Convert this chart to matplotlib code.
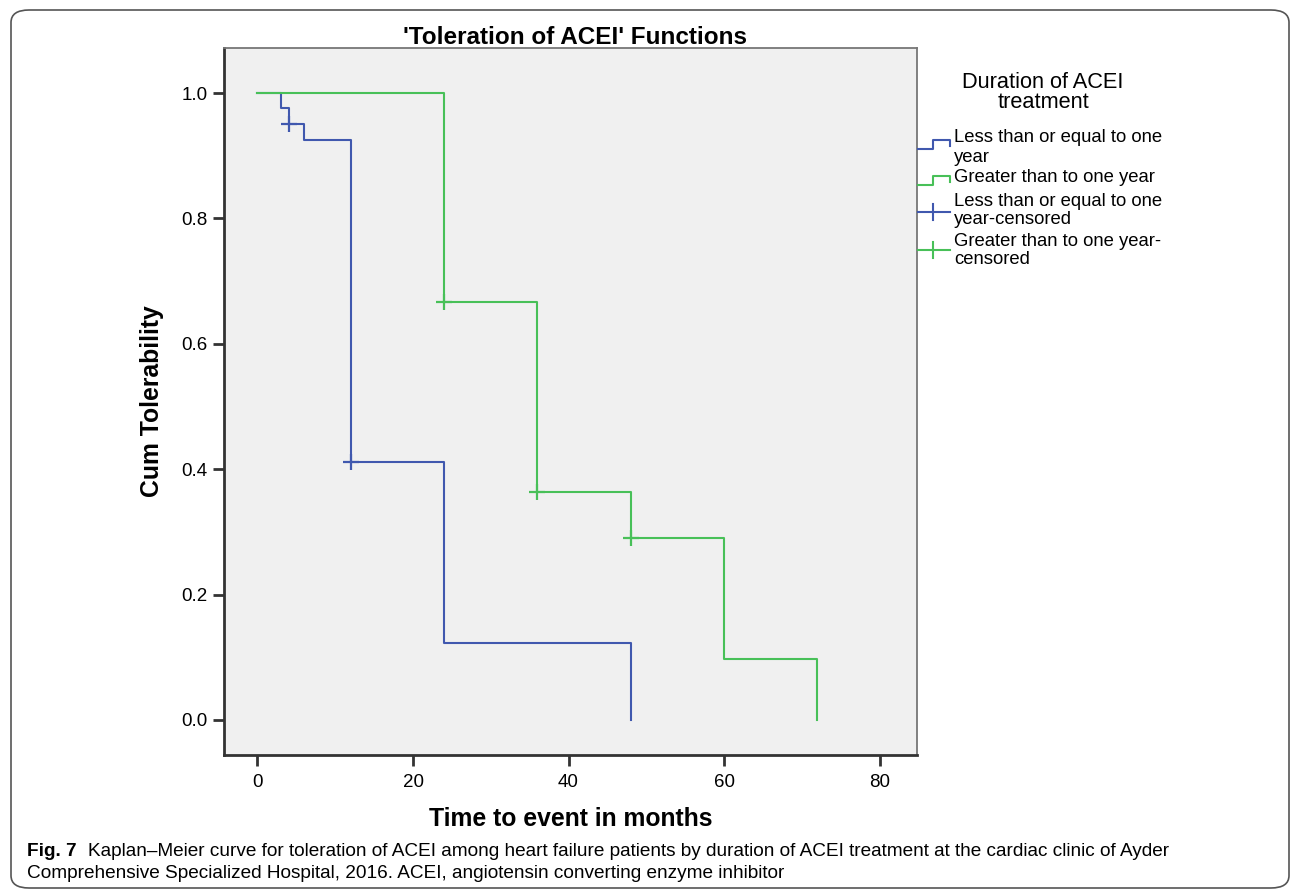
import matplotlib
matplotlib.use("Agg")
import matplotlib.pyplot as plt
from matplotlib.lines import Line2D
from matplotlib.patches import FancyBboxPatch

# Kaplan-Meier estimates
short_t = [0, 3, 4, 6, 12, 24, 48]
short_s = [1.0, 0.976, 0.951, 0.925, 0.411, 0.123, 0.0]
short_cens_t = [4, 12]
short_cens_s = [0.951, 0.411]

long_t = [0, 24, 36, 48, 60, 72]
long_s = [1.0, 0.667, 0.364, 0.291, 0.097, 0.0]
long_cens_t = [24, 36, 48]
long_cens_s = [0.667, 0.364, 0.291]

legend_labels = ["Less than or equal to one\nyear",
                 "Greater than to one year",
                 "Less than or equal to one\nyear-censored",
                 "Greater than to one year-\ncensored"]

BLUE = "#4058ae"
GREEN = "#48c058"
W, H = 1295, 891

plt.rcParams['font.family'] = ['Liberation Sans', 'DejaVu Sans']


def px(x, y):
    return x / W, 1 - y / H


def fy(y):
    return 1 - y / H


fig = plt.figure(figsize=(W / 100, H / 100), dpi=100)
ax = fig.add_axes([224 / W, 1 - 755 / H, (917 - 224) / W, (755 - 48) / H])
ax.set_facecolor("#f0f0f0")

ax.step(short_t, short_s, where='post', color=BLUE, lw=1.5)
ax.step(long_t, long_s, where='post', color=GREEN, lw=1.5)
ax.plot(short_cens_t, short_cens_s, '+', color=BLUE, ms=11, mew=1.6)
ax.plot(long_cens_t, long_cens_s, '+', color=GREEN, ms=11, mew=1.6)

ax.set_xlim(-4.3, 84.8)
ax.set_ylim(-0.056, 1.072)
ax.set_xticks([0, 20, 40, 60, 80])
ax.set_yticks([0.0, 0.2, 0.4, 0.6, 0.8, 1.0])
ax.set_yticklabels(["0.0", "0.2", "0.4", "0.6", "0.8", "1.0"])
ax.tick_params(length=8, width=2, labelsize=13.5, color="#333333")
ax.tick_params(axis='x', pad=6)
ax.tick_params(axis='y', pad=4)
for side in ["left", "bottom"]:
    ax.spines[side].set_linewidth(2)
    ax.spines[side].set_color("#333333")
for side in ["top", "right"]:
    ax.spines[side].set_linewidth(1.3)
    ax.spines[side].set_color("#777777")

ax.set_xlabel("Time to event in months", fontsize=17.8, fontweight='bold', labelpad=11)
ax.set_ylabel("Cum Tolerability", fontsize=17.8, fontweight='bold', labelpad=12)
fig.text(*px(575, 38), "'Toleration of ACEI' Functions", fontsize=17.5,
         fontweight='bold', ha='center', va='center')

# legend drawn by hand (SPSS style)
fig.text(*px(1043, 82), "Duration of ACEI", fontsize=15.7, ha='center', va='center')
fig.text(*px(1043, 102), "treatment", fontsize=15.7, ha='center', va='center')
line_ys = [[138, 157], [178], [202, 220], [242, 260]]
for lab, ys in zip(legend_labels, line_ys):
    for part, y in zip(lab.split("\n"), ys):
        fig.text(*px(954, y), part, fontsize=13.3, ha='left', va='center')

step_x = [918 / W, 933 / W, 933 / W, 950 / W, 950 / W]
fig.add_artist(Line2D(step_x, [fy(149), fy(149), fy(140), fy(140), fy(146)], color=BLUE, lw=1.5))
fig.add_artist(Line2D(step_x, [fy(185), fy(185), fy(176), fy(176), fy(182)], color=GREEN, lw=1.5))
for y, c in [(212, BLUE), (250, GREEN)]:
    fig.add_artist(Line2D([918 / W, 950 / W], [fy(y)] * 2, color=c, lw=1.5))
    fig.add_artist(Line2D([933 / W, 933 / W], [fy(y - 8), fy(y + 8)], color=c, lw=1.5))

# journal frame and caption
frame = FancyBboxPatch(px(11, 888), 1278 / W, 878 / H, boxstyle="round,pad=0,rounding_size=0.014",
                       transform=fig.transFigure, fill=False, edgecolor="#555555", lw=1.2)
fig.add_artist(frame)
fig.text(*px(27, 852), "Fig. 7", fontsize=13.7, fontweight='bold', va='center')
fig.text(*px(88, 852), "Kaplan\u2013Meier curve for toleration of ACEI among heart failure patients by "
         "duration of ACEI treatment at the cardiac clinic of Ayder", fontsize=13.7, va='center')
fig.text(*px(27, 873), "Comprehensive Specialized Hospital, 2016. ACEI, angiotensin converting "
         "enzyme inhibitor", fontsize=13.7, va='center')

fig.savefig("out.png", dpi=100)
